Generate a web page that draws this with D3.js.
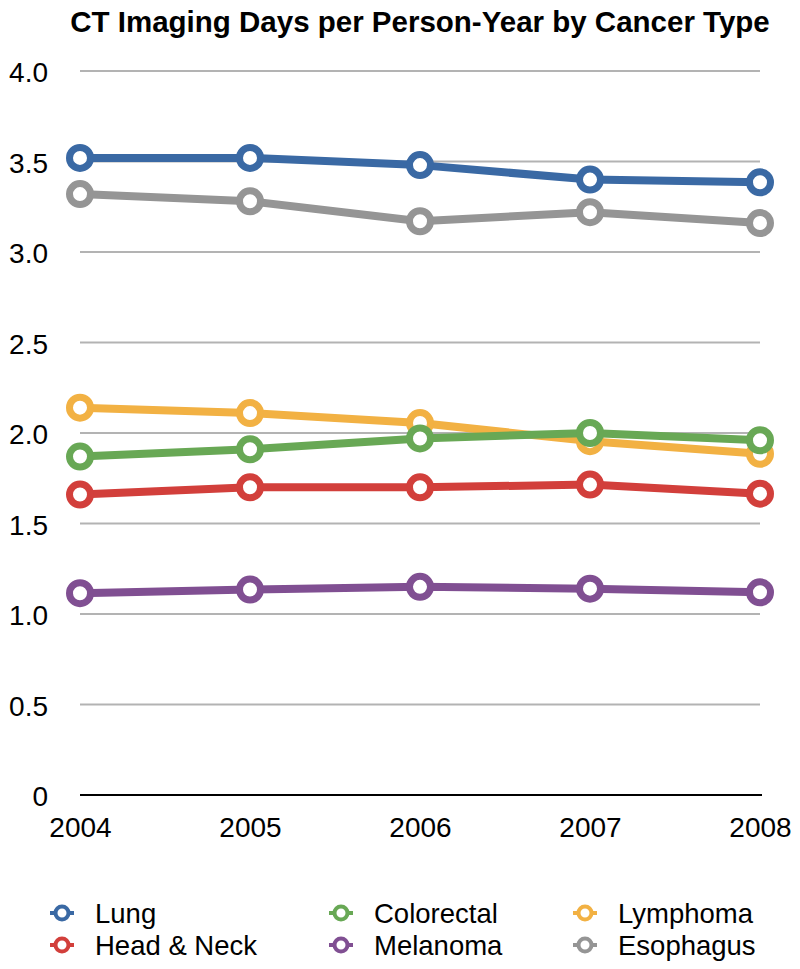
<!DOCTYPE html>
<html><head><meta charset="utf-8">
<script src="https://cdn.jsdelivr.net/npm/d3@7"></script>
<style>body{margin:0;background:#fff}svg{display:block}</style>
</head><body>
<svg id="c" width="800" height="969"></svg>
<script>
const years = [2004, 2005, 2006, 2007, 2008];
const yTicks = [0, 0.5, 1.0, 1.5, 2.0, 2.5, 3.0, 3.5, 4.0];
const seriesNames = ["Lung", "Head & Neck", "Colorectal", "Melanoma", "Lymphoma", "Esophagus"];
const seriesColors = ["#3a69a4", "#d23f3b", "#68a855", "#804f92", "#f2b143", "#959595"];
const lung = [3.52, 3.52, 3.48, 3.40, 3.385];
const headNeck = [1.66, 1.70, 1.70, 1.715, 1.665];
const colorectal = [1.87, 1.91, 1.97, 2.00, 1.96];
const melanoma = [1.115, 1.135, 1.15, 1.14, 1.12];
const lymphoma = [2.14, 2.11, 2.055, 1.955, 1.885];
const esophagus = [3.32, 3.28, 3.17, 3.22, 3.16];
const seriesValues = [lung, headNeck, colorectal, melanoma, lymphoma, esophagus];
const drawOrder = ["Esophagus", "Lung", "Melanoma", "Head & Neck", "Lymphoma", "Colorectal"];

const svg = d3.select("#c");
const font = "'Liberation Sans', Arial, Helvetica, sans-serif";
const x = d3.scalePoint().domain(years).range([80, 760]);
const y = d3.scaleLinear().domain([0, 4]).range([795, 71]);

svg.append("text").attr("x", 420).attr("y", 32).attr("text-anchor", "middle")
  .attr("font-family", font).attr("font-weight", "bold").attr("font-size", 29.5)
  .attr("fill", "#000").text("CT Imaging Days per Person-Year by Cancer Type");

// gridlines
svg.append("g").selectAll("line").data(yTicks.filter(d => d > 0)).join("line")
  .attr("x1", 80).attr("x2", 760).attr("y1", d => y(d)).attr("y2", d => y(d))
  .attr("stroke", "#b3b3b3").attr("stroke-width", 2);

// y axis labels
const yAxis = d3.axisLeft(y).tickValues(yTicks).tickSize(0).tickPadding(0)
  .tickFormat(d => d === 0 ? "0" : d3.format(".1f")(d));
const ya = svg.append("g").attr("transform", "translate(48,0)").call(yAxis);
ya.select(".domain").remove();
ya.selectAll("text").attr("font-family", font).attr("font-size", 28).attr("fill", "#000").attr("dy", "0.38em");

// baseline
svg.append("line").attr("x1", 80).attr("x2", 762).attr("y1", y(0)).attr("y2", y(0))
  .attr("stroke", "#000").attr("stroke-width", 2);

// x axis labels
const xAxis = d3.axisBottom(x).tickSize(0).tickPadding(0).tickFormat(d3.format("d"));
const xa = svg.append("g").attr("transform", "translate(0,817)").call(xAxis);
xa.select(".domain").remove();
xa.selectAll("text").attr("font-family", font).attr("font-size", 28).attr("fill", "#000").attr("dy", "0.71em");

const line = d3.line().x((d, i) => x(years[i])).y(d => y(d));
drawOrder.forEach(name => {
  const k = seriesNames.indexOf(name);
  const g = svg.append("g");
  g.append("path").datum(seriesValues[k]).attr("d", line).attr("fill", "none")
    .attr("stroke", seriesColors[k]).attr("stroke-width", 8).attr("stroke-linejoin", "round");
  g.selectAll("circle").data(seriesValues[k]).join("circle")
    .attr("cx", (d, i) => x(years[i])).attr("cy", d => y(d)).attr("r", 10.5)
    .attr("fill", "#fff").attr("stroke", seriesColors[k]).attr("stroke-width", 7);
});

// legend
const legendOrder = ["Lung", "Colorectal", "Lymphoma", "Head & Neck", "Melanoma", "Esophagus"];
const colX = [62, 341, 585];
const rowY = [913, 945];
legendOrder.forEach((name, j) => {
  const k = seriesNames.indexOf(name);
  const cx = colX[j % 3], cy = rowY[Math.floor(j / 3)];
  const g = svg.append("g");
  g.append("line").attr("x1", cx - 12).attr("x2", cx + 12).attr("y1", cy).attr("y2", cy)
    .attr("stroke", seriesColors[k]).attr("stroke-width", 4);
  g.append("circle").attr("cx", cx).attr("cy", cy).attr("r", 6.5)
    .attr("fill", "#fff").attr("stroke", seriesColors[k]).attr("stroke-width", 4);
  g.append("text").attr("x", cx + 33).attr("y", cy).attr("dy", "0.36em")
    .attr("font-family", font).attr("font-size", 27.5).attr("fill", "#000").text(name);
});
</script>
</body></html>
